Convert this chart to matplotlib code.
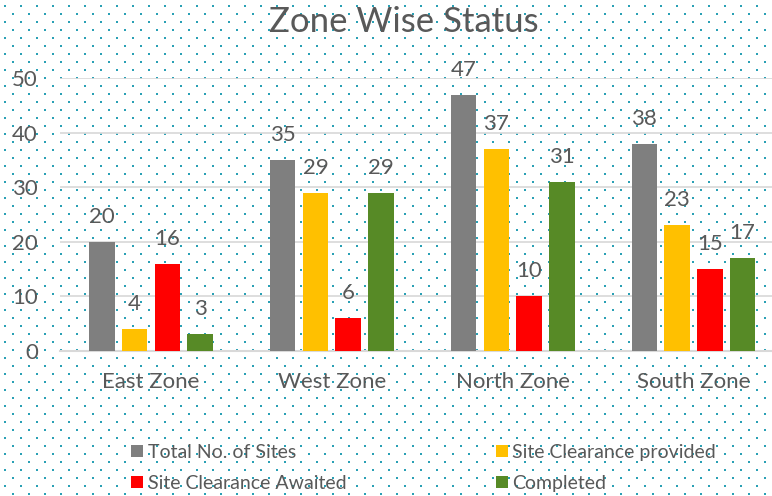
import numpy as np
import matplotlib
matplotlib.use('Agg')
import matplotlib.pyplot as plt

zones = ['East Zone', 'West Zone', 'North Zone', 'South Zone']
series_names = ['Total No. of Sites', 'Site Clearance provided',
                'Site Clearance Awaited', 'Completed']
total_sites = [20, 35, 47, 38]
clearance_provided = [4, 29, 37, 23]
clearance_awaited = [16, 6, 10, 15]
completed = [3, 29, 31, 17]
colors = ['#7f7f7f', '#ffc000', '#ff0000', '#578a26']
yticks = [0, 10, 20, 30, 40, 50]

plt.rcParams['font.family'] = ['Lato', 'DejaVu Sans']
txt = '#595959'
W, H = 772, 496

fig = plt.figure(figsize=(W / 100, H / 100), dpi=100)
fig.patch.set_facecolor('white')

# dotted background
bg = fig.add_axes([0, 0, 1, 1], zorder=0)
img = np.ones((H, W, 3))
dot = np.array([0x2a, 0xa0, 0xb5]) / 255
for r, y in enumerate(range(5, H, 8)):
    x0 = 4 if r % 2 == 0 else 12
    for x in range(x0, W, 16):
        img[y:y + 2, x:x + 2] = dot
bg.imshow(img, extent=(0, W, H, 0), interpolation='nearest', aspect='auto')
bg.set_xlim(0, W)
bg.set_ylim(H, 0)
bg.axis('off')

ax = fig.add_axes([60 / W, (H - 350.7) / H, 712 / W, 272.4 / H], zorder=1)
ax.patch.set_alpha(0)

x = np.arange(len(zones))
pitch, width = 0.181, 0.141
data = [total_sites, clearance_provided, clearance_awaited, completed]
bars = []
for i, (vals, c, name) in enumerate(zip(data, colors, series_names)):
    b = ax.bar(x + (i - 1.5) * pitch, vals, width, color=c, label=name, zorder=3)
    bars.append(b)
    for rect, v in zip(b, vals):
        ax.annotate(str(v), (rect.get_x() + rect.get_width() / 2, v),
                    xytext=(0, 18), textcoords='offset points',
                    ha='center', va='center', fontsize=16, color=txt)

ax.set_xlim(-0.503, 3.434)
ax.set_ylim(0, 50)
ax.set_yticks(yticks)
ax.set_xticks(x)
ax.set_xticklabels(zones)
ax.yaxis.grid(True, color='#d9d9d9', lw=1.25, zorder=0)
ax.set_axisbelow(True)
for s in ['top', 'right', 'left']:
    ax.spines[s].set_visible(False)
ax.spines['bottom'].set_color('#d9d9d9')
ax.spines['bottom'].set_linewidth(1.5)
ax.tick_params(axis='both', length=0, labelsize=16, labelcolor=txt)
ax.tick_params(axis='y', pad=16)
ax.tick_params(axis='x', pad=15)

fig.text(404 / W, 1 - 22 / H, 'Zone Wise Status', ha='center', va='center',
         fontsize=25, color=txt)

order = [0, 2, 1, 3]
leg = fig.legend([bars[i] for i in order], [series_names[i] for i in order],
                 ncol=2, loc='upper left', bbox_to_anchor=(131 / W, 1 - 444 / H),
                 frameon=False, fontsize=14, handlelength=0.6, handleheight=0.6,
                 handletextpad=0.25, columnspacing=7.7, labelspacing=0.7,
                 borderpad=0, borderaxespad=0)
for t in leg.get_texts():
    t.set_color(txt)

fig.savefig('out.png', dpi=100)
